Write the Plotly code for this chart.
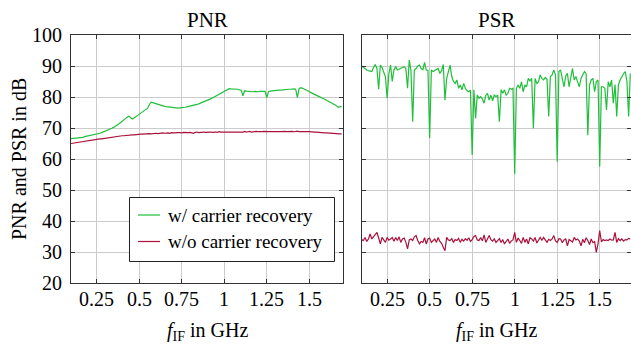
import plotly.graph_objects as go

# frequency grid in GHz
f_pnr = [round(0.10 + 0.01 * i, 2) for i in range(160)]
f_psr = [round(0.10 + 0.01 * i, 2) for i in range(159)]

pnr_with = [
    66.6, 66.6, 66.7, 66.7, 66.8, 66.9, 66.9, 67.0, 67.2, 67.3,
    67.4, 67.5, 67.6, 67.7, 67.8, 67.9, 68.1, 68.3, 68.5, 68.7,
    68.9, 69.1, 69.4, 69.6, 69.9, 70.2, 70.5, 70.9, 71.3, 71.7,
    72.2, 72.6, 73.1, 73.5, 73.8, 73.4, 72.9, 73.2, 73.7, 74.0,
    74.4, 74.8, 75.2, 75.6, 76.0, 76.4, 77.5, 78.3, 78.2, 78.0,
    77.8, 77.6, 77.4, 77.3, 77.1, 77.0, 76.9, 76.8, 76.7, 76.6,
    76.5, 76.5, 76.4, 76.4, 76.5, 76.5, 76.6, 76.7, 76.8, 76.9,
    77.0, 77.1, 77.3, 77.4, 77.6, 77.8, 78.0, 78.2, 78.4, 78.7,
    78.9, 79.2, 79.4, 79.7, 80.0, 80.3, 80.6, 80.9, 81.2, 81.5,
    81.8, 82.2, 82.5, 82.7, 82.6, 82.6, 82.5, 82.4, 82.5, 82.3,
    82.2, 80.4, 82.0, 81.9, 81.8, 81.9, 81.8, 81.7, 81.8, 81.7,
    81.7, 81.8, 81.8, 81.9, 81.8, 79.8, 81.7, 81.9, 82.0, 82.0,
    82.1, 82.1, 82.2, 82.2, 82.3, 82.3, 82.4, 82.4, 82.5, 82.5,
    82.6, 82.6, 82.5, 79.8, 82.7, 83.0, 82.8, 82.6, 82.4, 82.1,
    81.8, 81.4, 81.1, 80.8, 80.5, 80.3, 80.0, 79.8, 79.6, 79.3,
    79.1, 78.8, 78.5, 78.2, 77.9, 77.6, 77.2, 76.7, 76.9, 77.0,
]

pnr_without = [
    65.0, 65.1, 65.2, 65.3, 65.4, 65.5, 65.6, 65.6, 65.7, 65.8,
    65.9, 66.0, 66.0, 66.1, 66.2, 66.3, 66.4, 66.5, 66.5, 66.6,
    66.7, 66.8, 66.9, 67.0, 67.0, 67.1, 67.2, 67.3, 67.3, 67.4,
    67.5, 67.5, 67.6, 67.6, 67.7, 67.7, 67.8, 67.8, 67.9, 67.9,
    68.0, 68.0, 68.0, 68.1, 68.1, 68.1, 68.2, 68.1, 68.2, 68.2,
    68.3, 68.2, 68.3, 68.3, 68.4, 68.3, 68.4, 68.4, 68.3, 68.5,
    68.4, 68.5, 68.4, 68.5, 68.5, 68.4, 68.6, 68.5, 68.6, 68.5,
    68.6, 68.5, 68.3, 68.6, 68.7, 68.5, 68.6, 68.6, 68.7, 68.6,
    68.7, 68.6, 68.7, 68.6, 68.7, 68.7, 68.6, 68.8, 68.7, 68.7,
    68.8, 68.7, 68.6, 68.8, 68.7, 68.8, 68.7, 68.8, 68.8, 68.7,
    68.8, 68.7, 68.9, 68.7, 68.8, 68.9, 68.7, 68.8, 68.8, 68.9,
    68.8, 68.7, 68.8, 68.9, 68.8, 68.7, 68.8, 68.8, 68.9, 68.8,
    68.8, 68.9, 68.8, 68.8, 68.9, 68.8, 68.9, 68.8, 68.9, 68.8,
    68.9, 68.8, 68.9, 69.0, 68.8, 68.9, 68.8, 68.8, 68.9, 68.8,
    68.8, 68.7, 68.8, 68.7, 68.7, 68.6, 68.6, 68.5, 68.5, 68.4,
    68.4, 68.4, 68.3, 68.3, 68.3, 68.2, 68.2, 68.1, 68.1, 68.1,
]

psr_with = [
    90.0, 89.6, 89.0, 88.7, 88.5, 88.4, 88.2, 89.5, 90.5, 89.2,
    82.5, 90.3, 89.5, 88.0, 86.5, 79.6, 87.5, 90.3, 85.0, 88.7,
    89.8, 88.7, 89.0, 89.2, 89.5, 89.8, 89.2, 82.8, 91.9, 88.5,
    72.0, 88.7, 89.2, 90.0, 90.3, 89.2, 88.8, 91.2, 88.7, 88.6,
    66.8, 88.7, 88.2, 88.5, 89.0, 89.2, 87.6, 88.5, 90.5, 79.0,
    86.0, 88.2, 90.3, 86.6, 85.0, 84.4, 85.5, 82.8, 83.9, 82.3,
    84.4, 82.8, 82.0, 81.7, 82.2, 61.3, 82.3, 73.1, 80.6, 79.6,
    80.1, 79.4, 78.0, 80.5, 81.2, 79.0, 80.6, 78.8, 80.6, 80.1,
    80.6, 72.0, 82.3, 81.2, 82.3, 80.6, 81.2, 82.8, 82.5, 82.8,
    55.2, 82.8, 83.9, 82.8, 84.9, 81.7, 83.9, 83.3, 86.0, 85.2,
    86.0, 69.9, 86.0, 84.4, 84.9, 87.1, 86.0, 85.5, 86.3, 85.8,
    73.7, 86.6, 87.1, 88.7, 87.1, 59.1, 88.2, 88.7, 86.5, 83.3,
    86.8, 87.6, 83.3, 86.5, 89.2, 85.5, 86.6, 84.9, 83.3, 86.0,
    87.0, 88.2, 87.5, 67.7, 83.9, 85.5, 86.0, 81.7, 84.9, 85.5,
    57.5, 83.3, 83.3, 82.8, 75.8, 84.9, 83.3, 85.5, 78.0, 84.0,
    73.7, 83.9, 85.5, 86.6, 87.5, 88.2, 85.0, 73.7, 87.6,
]

psr_without = [
    34.0, 33.7, 34.7, 33.4, 34.2, 35.8, 34.2, 34.9, 35.3, 36.3,
    34.5, 32.6, 34.7, 33.9, 33.1, 34.7, 33.8, 34.2, 34.7, 33.5,
    34.7, 33.7, 34.9, 33.1, 34.2, 34.5, 33.2, 31.0, 33.9, 34.2,
    33.7, 34.9, 35.3, 33.7, 32.6, 33.4, 33.1, 34.6, 32.6, 34.2,
    34.5, 33.1, 33.6, 34.2, 33.1, 34.7, 33.4, 32.8, 31.5, 30.4,
    34.7, 33.9, 33.7, 34.3, 33.1, 34.0, 33.7, 34.4, 33.1, 34.1,
    33.5, 34.3, 33.8, 34.6, 33.4, 34.0, 35.0, 35.3, 33.9, 33.7,
    34.7, 33.6, 35.5, 33.1, 34.2, 35.3, 34.0, 33.5, 34.2, 33.1,
    33.7, 34.3, 33.1, 34.0, 32.6, 33.5, 34.2, 32.8, 33.6, 33.9,
    36.3, 33.1, 34.5, 33.7, 32.8, 34.7, 33.1, 34.2, 32.6, 34.6,
    34.2, 33.5, 34.7, 32.9, 33.7, 34.7, 33.8, 34.7, 33.9, 33.1,
    34.1, 33.7, 34.2, 35.3, 33.6, 33.1, 34.3, 34.2, 33.0, 33.9,
    34.2, 32.0, 34.0, 33.7, 33.2, 34.7, 33.9, 34.2, 33.5, 32.0,
    34.1, 33.0, 34.6, 33.7, 32.4, 34.2, 33.0, 33.4, 29.9, 32.6,
    36.9, 33.3, 34.0, 33.7, 33.9, 33.7, 34.2, 33.8, 33.9, 36.3,
    33.1, 34.3, 33.7, 34.2, 33.5, 34.0, 33.9, 34.4, 34.2,
]

x_tickvals = [0.25, 0.5, 0.75, 1.0, 1.25, 1.5]
x_ticktext = ["0.25", "0.5", "0.75", "1", "1.25", "1.5"]
y_tickvals = [20, 30, 40, 50, 60, 70, 80, 90, 100]
y_ticktext = ["20", "30", "40", "50", "60", "70", "80", "90", "100"]
series_names = ["w/ carrier recovery", "w/o carrier recovery"]
panel_titles = ["PNR", "PSR"]
x_title = "<i>f</i><sub>IF</sub> in GHz"
y_title = "PNR and PSR in dB"

GREEN = "#1fbf3a"
RED = "#a8123c"
FONT = "Liberation Serif"
W, H = 631, 348
ML, MT, MB = 71, 35, 65
PW, PH = W - ML, H - MT - MB
DOM1 = [0, 0.4863]
DOM2 = [0.519, 1.0]

fig = go.Figure()
fig.add_trace(go.Scatter(x=f_pnr, y=pnr_with, mode="lines", name=series_names[0],
                         line=dict(color=GREEN, width=1.2), xaxis="x", yaxis="y"))
fig.add_trace(go.Scatter(x=f_pnr, y=pnr_without, mode="lines", name=series_names[1],
                         line=dict(color=RED, width=1.2), xaxis="x", yaxis="y"))
fig.add_trace(go.Scatter(x=f_psr, y=psr_with, mode="lines", name=series_names[0],
                         line=dict(color=GREEN, width=1.2), xaxis="x2", yaxis="y2"))
fig.add_trace(go.Scatter(x=f_psr, y=psr_without, mode="lines", name=series_names[1],
                         line=dict(color=RED, width=1.2), xaxis="x2", yaxis="y2"))

axis_common = dict(showline=True, linecolor="#333333", linewidth=1, mirror="ticks",
                   ticks="inside", ticklen=4, tickcolor="#333333", showticklabels=False,
                   showgrid=True, gridcolor="#cccccc", gridwidth=1, zeroline=False)

fig.update_layout(
    width=W, height=H,
    margin=dict(l=ML, r=0, t=MT, b=MB),
    paper_bgcolor="white", plot_bgcolor="white",
    font=dict(family=FONT, size=19, color="black"),
    showlegend=False,
    xaxis=dict(domain=DOM1, range=[0.1, 1.7], tickvals=x_tickvals, anchor="y", **axis_common),
    xaxis2=dict(domain=DOM2, range=[0.1, 1.684], tickvals=x_tickvals, anchor="y2", **axis_common),
    yaxis=dict(range=[20, 100], tickvals=y_tickvals, anchor="x", **axis_common),
    yaxis2=dict(range=[20, 100], tickvals=y_tickvals, anchor="x2", **axis_common),
)

tick_font = dict(family=FONT, size=20, color="black")
# x tick labels (drawn as text at the tick values)
for xref in ["x", "x2"]:
    for v, t in zip(x_tickvals, x_ticktext):
        fig.add_annotation(text=t, x=v, xref=xref, y=0, yref="paper", xanchor="center",
                           yanchor="top", yshift=-3, showarrow=False, font=tick_font)
# y tick labels
for v, t in zip(y_tickvals, y_ticktext):
    fig.add_annotation(text=t, x=0, xref="paper", y=v, yref="y", xanchor="right",
                       yanchor="middle", xshift=-7, showarrow=False, font=tick_font)

# panel titles and axis titles
for dom, t in zip([DOM1, DOM2], panel_titles):
    cx = (dom[0] + dom[1]) / 2
    fig.add_annotation(text=t, xref="paper", yref="paper", x=cx, y=1.0, xanchor="center",
                       yanchor="bottom", yshift=1, showarrow=False,
                       font=dict(family=FONT, size=21, color="black"))
    fig.add_annotation(text=x_title, xref="paper", yref="paper", x=cx, y=0, xanchor="center",
                       yanchor="middle", yshift=-48, showarrow=False,
                       font=dict(family=FONT, size=20, color="black"))
fig.add_annotation(text=y_title, xref="paper", yref="paper", x=0, y=0.5, xanchor="center",
                   yanchor="middle", xshift=-52, textangle=-90, showarrow=False,
                   font=dict(family=FONT, size=20, color="black"))

# legend box (drawn manually)
def px_x(p):
    return (p - ML) / PW

def px_y(p):
    return (H - MB - p) / PH

fig.add_shape(type="rect", xref="paper", yref="paper", x0=px_x(129.5), x1=px_x(334.5),
              y0=px_y(261.5), y1=px_y(197.5), fillcolor="white",
              line=dict(color="#222222", width=1), layer="above")
for row_y, name, col in zip([215.0, 241.5], series_names, [GREEN, RED]):
    fig.add_shape(type="line", xref="paper", yref="paper", x0=px_x(138), x1=px_x(160),
                  y0=px_y(row_y), y1=px_y(row_y), line=dict(color=col, width=1.2), layer="above")
    fig.add_annotation(text=name, xref="paper", yref="paper", x=px_x(166), y=px_y(row_y),
                       xanchor="left", yanchor="middle", showarrow=False,
                       font=dict(family=FONT, size=19, color="black"))

fig.write_html("out.html")
